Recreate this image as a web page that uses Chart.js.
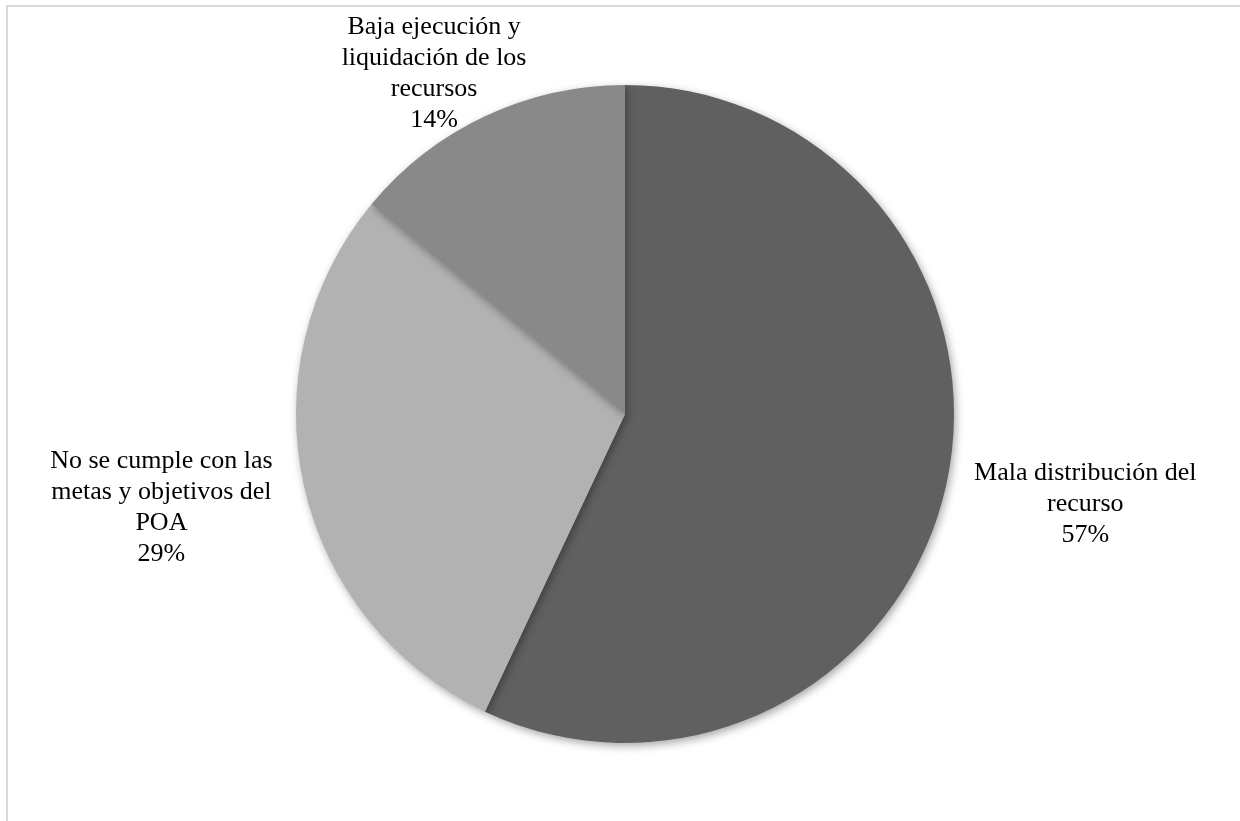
<!DOCTYPE html>
<html>
<head>
<meta charset="utf-8">
<script src="https://cdn.jsdelivr.net/npm/chart.js@4"></script>
<style>
  html, body { margin: 0; padding: 0; background: #fff; }
  #wrap { position: relative; width: 1240px; height: 821px; overflow: hidden; }
  #frame {
    position: absolute; left: 6px; top: 5px; width: 1300px; height: 900px;
    border-left: 2px solid #d9d9d9; border-top: 2px solid #d9d9d9;
  }
  canvas { position: absolute; left: 0; top: 0; }
</style>
</head>
<body>
<div id="wrap">
  <div id="frame"></div>
  <canvas id="chart" width="1240" height="821"></canvas>
</div>
<script>
// categories, each split in the lines shown on the chart
const categories = [
  ["Mala distribución del", "recurso"],
  ["No se cumple con las", "metas y objetivos del", "POA"],
  ["Baja ejecución y", "liquidación de los", "recursos"]
];
const values = [57, 29, 14];
const colors = ["#606060", "#b2b2b2", "#898989"];

// soft drop shadow under the pie
const shadowPlugin = {
  id: "shadow",
  beforeDatasetsDraw(chart) {
    const ctx = chart.ctx;
    ctx.save();
    ctx.shadowColor = "rgba(0,0,0,0.35)";
    ctx.shadowBlur = 9;
    ctx.shadowOffsetX = 2;
    ctx.shadowOffsetY = 3;
  },
  afterDatasetsDraw(chart) {
    chart.ctx.restore();
  }
};

// outside labels: category lines plus percentage, kept inside the canvas
const labelPlugin = {
  id: "outsideLabels",
  afterDraw(chart) {
    const ctx = chart.ctx;
    const meta = chart.getDatasetMeta(0);
    const lineH = 31;
    const gapX = 24;
    const gapY = 17;
    const topLimit = 12;
    const baseShift = 5;
    ctx.save();
    ctx.font = "26px 'Liberation Serif', 'Times New Roman', serif";
    ctx.fillStyle = "#000";
    ctx.textAlign = "center";
    ctx.textBaseline = "middle";
    meta.data.forEach((arc, i) => {
      const { x, y, startAngle, endAngle, outerRadius } = arc.getProps(
        ["x", "y", "startAngle", "endAngle", "outerRadius"], true);
      const mid = (startAngle + endAngle) / 2;
      const dx = Math.cos(mid), dy = Math.sin(mid);
      const lines = categories[i].concat([values[i] + "%"]);
      const w = Math.max(...lines.map((l) => ctx.measureText(l).width));
      const h = lines.length * lineH;
      const cx = x + dx * (outerRadius + gapX + Math.abs(dx) * w / 2 + Math.abs(dy) * h / 2);
      let cy = y + dy * (outerRadius + gapY + h / 2) + baseShift;
      if (cy - h / 2 < topLimit) cy = topLimit + h / 2;
      lines.forEach((l, k) => {
        ctx.fillText(l, cx, cy - h / 2 + lineH / 2 + k * lineH);
      });
    });
    ctx.restore();
  }
};

new Chart(document.getElementById("chart"), {
  type: "pie",
  data: {
    labels: categories.map((c) => c.join(" ")),
    datasets: [{
      data: values,
      backgroundColor: colors,
      borderWidth: 0
    }]
  },
  options: {
    responsive: false,
    animation: false,
    layout: { padding: { top: 85, bottom: 78, left: 10, right: 0 } },
    plugins: {
      legend: { display: false },
      tooltip: { enabled: false }
    }
  },
  plugins: [shadowPlugin, labelPlugin]
});
</script>
</body>
</html>
